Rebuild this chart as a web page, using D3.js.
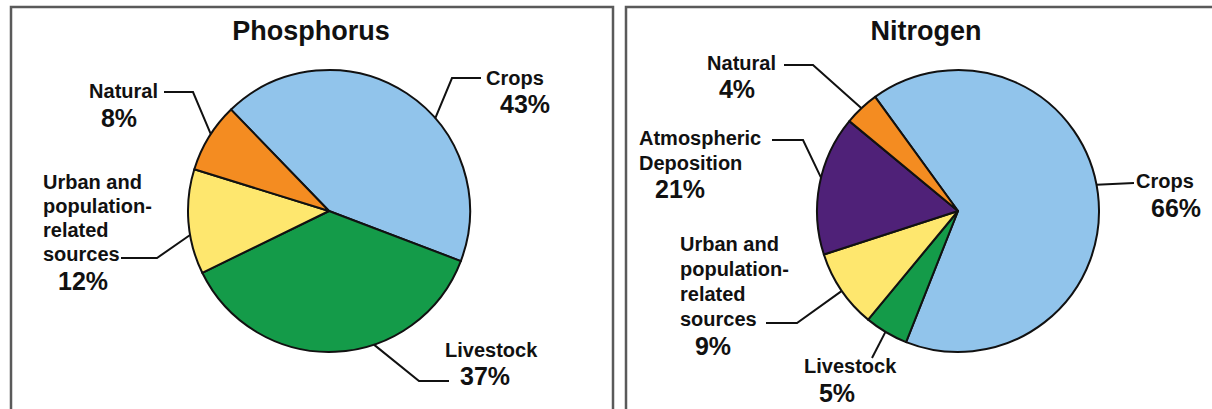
<!DOCTYPE html>
<html><head><meta charset="utf-8">
<script src="https://cdn.jsdelivr.net/npm/d3@7"></script>
<style>
body{margin:0;background:#fff}
svg{display:block}
text{font-family:"Liberation Sans",Arial,sans-serif;font-weight:700;fill:#111}
</style>
</head><body>
<svg id="chart" width="1212" height="409"></svg>
<script>
// ---------- data ----------
const phosCategories = ["Crops", "Livestock", "Urban and population-related sources", "Natural"];
const phosValues = [43, 37, 12, 8];
const phosLabels = ["43%", "37%", "12%", "8%"];

const nitroCategories = ["Crops", "Livestock", "Urban and population-related sources", "Atmospheric Deposition", "Natural"];
const nitroValues = [66, 5, 9, 16, 4];          // slice shares as drawn in the picture
const nitroLabels = ["66%", "5%", "9%", "21%", "4%"]; // printed percentages

const categoryColors = ["#91c4eb", "#149b49", "#fee76e", "#4f2178", "#f48c21"];
const colorDomain = ["Crops", "Livestock", "Urban and population-related sources", "Atmospheric Deposition", "Natural"];

// ---------- layout ----------
const color = d3.scaleOrdinal().domain(colorDomain).range(categoryColors);
const svg = d3.select("#chart");
const deg = Math.PI / 180;

const panels = [
  {
    title: "Phosphorus", categories: phosCategories, values: phosValues, labels: phosLabels,
    frame: {x: 11, y: 7, w: 602, h: 430},
    cx: 329, cy: 211, r: 141, start: -44, titleX: 311, titleY: 40, lh: 24,
    place: {
      "Crops": {t: 0.6, pts: [[123, -133], [152, -133]], text: ["Crops"], tx: 157, ty: -126, anchor: "start", px: 171, py: -98, panchor: "start"},
      "Livestock": {t: 0.38, pts: [[90, 170], [120, 170]], text: ["Livestock"], tx: 116, ty: 146, anchor: "start", px: 131, py: 174, panchor: "start"},
      "Urban and population-related sources": {t: 0.375, pts: [[-172, 47], [-208, 47]], text: ["Urban and", "population-", "related", "sources"], tx: -286, ty: -22, anchor: "start", px: -246, py: 79, panchor: "middle"},
      "Natural": {t: 0.55, pts: [[-136, -119], [-165, -119]], text: ["Natural"], tx: -171, ty: -113, anchor: "end", px: -210, py: -84, panchor: "middle"}
    }
  },
  {
    title: "Nitrogen", categories: nitroCategories, values: nitroValues, labels: nitroLabels,
    frame: {x: 626, y: 7, w: 620, h: 430},
    cx: 958, cy: 211, r: 141, start: -36, titleX: 926, titleY: 40, lh: 25,
    place: {
      "Crops": {t: 0.485, pts: [[176, -28]], text: ["Crops"], tx: 178, ty: -23, anchor: "start", px: 193, py: 6, panchor: "start"},
      "Livestock": {t: 0.52, pts: [[-86, 147]], text: ["Livestock"], tx: -154, ty: 162, anchor: "start", px: -121, py: 191, panchor: "middle"},
      "Urban and population-related sources": {t: 0.49, pts: [[-161, 112], [-192, 112]], text: ["Urban and", "population-", "related", "sources"], tx: -278, ty: 40, anchor: "start", px: -245, py: 144, panchor: "middle"},
      "Atmospheric Deposition": {t: 0.55, pts: [[-155, -71], [-186, -71]], text: ["Atmospheric", "Deposition"], tx: -319, ty: -66, anchor: "start", px: -278, py: -13, panchor: "middle"},
      "Natural": {t: 0.5, pts: [[-145, -146], [-174, -146]], text: ["Natural"], tx: -182, ty: -141, anchor: "end", px: -221, py: -113, panchor: "middle"}
    }
  }
];

panels.forEach(p => {
  const g = svg.append("g");
  g.append("rect")
    .attr("x", p.frame.x).attr("y", p.frame.y)
    .attr("width", p.frame.w).attr("height", p.frame.h)
    .attr("fill", "none").attr("stroke", "#5a5a5a").attr("stroke-width", 2.5);

  g.append("text").attr("x", p.titleX).attr("y", p.titleY)
    .attr("text-anchor", "middle").attr("font-size", 27).text(p.title);

  const data = p.categories.map((c, i) => ({cat: c, value: p.values[i], label: p.labels[i]}));
  const pie = d3.pie().sort(null).value(d => d.value)
    .startAngle(p.start * deg).endAngle(p.start * deg + 2 * Math.PI);
  const arcs = pie(data);
  const arc = d3.arc().innerRadius(0).outerRadius(p.r);

  const pg = g.append("g").attr("transform", `translate(${p.cx},${p.cy})`);
  pg.selectAll("path.slice").data(arcs).join("path")
    .attr("class", "slice")
    .attr("d", arc)
    .attr("fill", d => color(d.data.cat))
    .attr("stroke", "#111").attr("stroke-width", 2).attr("stroke-linejoin", "round");

  // leaders and labels
  arcs.forEach(a => {
    const L = p.place[a.data.cat];
    const ang = a.startAngle + L.t * (a.endAngle - a.startAngle);
    const edge = [p.r * Math.sin(ang), -p.r * Math.cos(ang)];
    pg.append("path")
      .attr("d", d3.line()([edge, ...L.pts]))
      .attr("fill", "none").attr("stroke", "#111").attr("stroke-width", 2);
    const t = pg.append("text").attr("x", L.tx).attr("y", L.ty)
      .attr("text-anchor", L.anchor).attr("font-size", 20);
    L.text.forEach((line, i) => {
      t.append("tspan").attr("x", L.tx).attr("y", L.ty + i * p.lh).text(line);
    });
    pg.append("text").attr("x", L.px).attr("y", L.py)
      .attr("text-anchor", L.panchor).attr("font-size", 25).text(a.data.label);
  });
});
</script>
</body></html>
